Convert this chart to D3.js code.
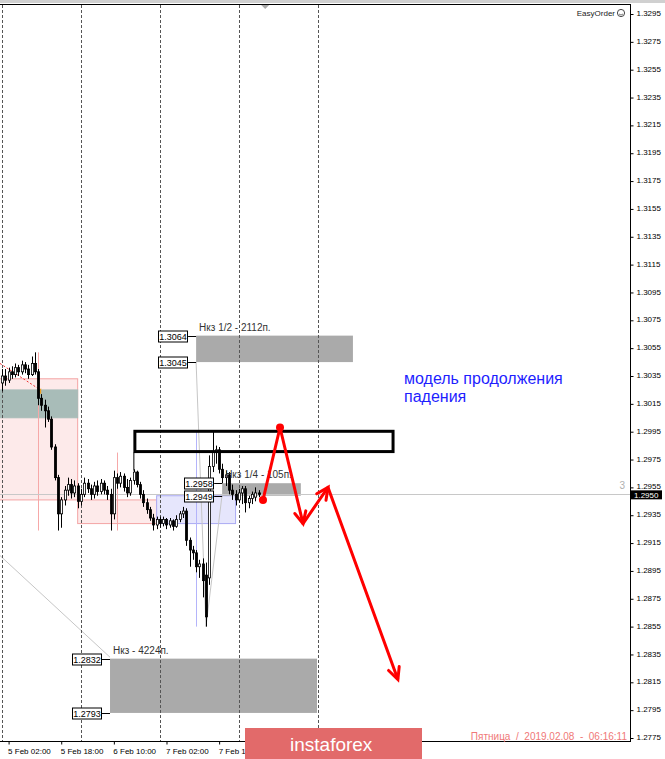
<!DOCTYPE html>
<html>
<head>
<meta charset="utf-8">
<script src="https://cdn.jsdelivr.net/npm/d3@7"></script>
<style>
  body { margin: 0; background: #fff; }
  svg { display: block; font-family: "Liberation Sans", Arial, sans-serif; }
</style>
</head>
<body>
<div id="chart"></div>
<script>
// -- H1 bars, GBPUSD, first bar 2019-02-05 00:00 -- //
const firstBar = "2019-02-05 00:00";
const opens = [
  1.3030, 1.3035, 1.3032, 1.3038, 1.3036, 1.3041, 1.3038, 1.3043, 1.3040, 1.3036,
  1.3044, 1.3038, 1.3019, 1.3014, 1.3010, 1.3004, 1.2984, 1.2962, 1.2936, 1.2946,
  1.2953, 1.2957, 1.2951, 1.2956, 1.2945, 1.2950, 1.2958, 1.2954, 1.2950, 1.2956,
  1.2952, 1.2958, 1.2953, 1.2950, 1.2936, 1.2962, 1.2958, 1.2963, 1.2955, 1.2951,
  1.2960, 1.2966, 1.2957, 1.2950, 1.2944, 1.2939, 1.2933, 1.2928, 1.2932, 1.2929,
  1.2932, 1.2928, 1.2931, 1.2927, 1.2932, 1.2936, 1.2938, 1.2917, 1.2910, 1.2908,
  1.2898, 1.2900, 1.2892, 1.2890, 1.2970, 1.2980, 1.2982, 1.2968, 1.2962, 1.2964,
  1.2953, 1.2950, 1.2946, 1.2951, 1.2954, 1.2944, 1.2947, 1.2948, 1.2951
];
const highs = [
  1.3040, 1.3040, 1.3041, 1.3042, 1.3044, 1.3043, 1.3046, 1.3045, 1.3043, 1.3049,
  1.3052, 1.3040, 1.3022, 1.3018, 1.3013, 1.3006, 1.2986, 1.2964, 1.2948, 1.2956,
  1.2962, 1.2961, 1.2960, 1.2958, 1.2954, 1.2962, 1.2961, 1.2957, 1.2959, 1.2960,
  1.2961, 1.2960, 1.2956, 1.2954, 1.2967, 1.2965, 1.2966, 1.2965, 1.2961, 1.2962,
  1.2968, 1.2967, 1.2959, 1.2953, 1.2947, 1.2941, 1.2936, 1.2934, 1.2934, 1.2934,
  1.2933, 1.2933, 1.2932, 1.2935, 1.2938, 1.2941, 1.2940, 1.2919, 1.2913, 1.2910,
  1.2903, 1.2904, 1.2901, 1.2978, 1.2996, 1.2985, 1.2984, 1.2972, 1.2967, 1.2966,
  1.2957, 1.2953, 1.2954, 1.2956, 1.2956, 1.2949, 1.2952, 1.2955, 1.2953
];
const lows = [
  1.3024, 1.3028, 1.3030, 1.3033, 1.3034, 1.3035, 1.3036, 1.3037, 1.3033, 1.3035,
  1.3036, 1.3014, 1.3010, 1.2998, 1.3002, 1.2982, 1.2960, 1.2924, 1.2926, 1.2942,
  1.2949, 1.2947, 1.2948, 1.2940, 1.2942, 1.2948, 1.2951, 1.2946, 1.2947, 1.2949,
  1.2950, 1.2950, 1.2946, 1.2924, 1.2932, 1.2954, 1.2955, 1.2952, 1.2948, 1.2949,
  1.2957, 1.2955, 1.2947, 1.2941, 1.2936, 1.2931, 1.2924, 1.2925, 1.2926, 1.2927,
  1.2925, 1.2926, 1.2924, 1.2926, 1.2930, 1.2933, 1.2913, 1.2898, 1.2903, 1.2894,
  1.2890, 1.2876, 1.2855, 1.2885, 1.2966, 1.2972, 1.2965, 1.2958, 1.2956, 1.2950,
  1.2946, 1.2942, 1.2944, 1.2943, 1.2937, 1.2940, 1.2943, 1.2945, 1.2948
];
const closes = [
  1.3035, 1.3032, 1.3038, 1.3036, 1.3041, 1.3038, 1.3043, 1.3040, 1.3036, 1.3044,
  1.3038, 1.3019, 1.3014, 1.3010, 1.3004, 1.2984, 1.2962, 1.2936, 1.2946, 1.2953,
  1.2957, 1.2951, 1.2956, 1.2945, 1.2950, 1.2958, 1.2954, 1.2950, 1.2956, 1.2952,
  1.2958, 1.2953, 1.2950, 1.2936, 1.2962, 1.2958, 1.2963, 1.2955, 1.2951, 1.2960,
  1.2966, 1.2957, 1.2950, 1.2944, 1.2939, 1.2933, 1.2928, 1.2932, 1.2929, 1.2932,
  1.2928, 1.2931, 1.2927, 1.2932, 1.2936, 1.2938, 1.2917, 1.2910, 1.2908, 1.2898,
  1.2900, 1.2888, 1.2862, 1.2970, 1.2980, 1.2982, 1.2968, 1.2962, 1.2964, 1.2953,
  1.2950, 1.2946, 1.2951, 1.2954, 1.2944, 1.2947, 1.2950, 1.2951, 1.2950
];

// axis ticks
const yTicks = [
  1.2775, 1.2795, 1.2815, 1.2835, 1.2855, 1.2875, 1.2895, 1.2915, 1.2935,
  1.2955, 1.2975, 1.2995, 1.3015, 1.3035, 1.3055, 1.3075, 1.3095, 1.3115,
  1.3135, 1.3155, 1.3175, 1.3195, 1.3215, 1.3235, 1.3255, 1.3275, 1.3295
];
const xTicks = ["2019-02-05 02:00", "2019-02-05 18:00", "2019-02-06 10:00", "2019-02-07 02:00", "2019-02-07 18:00"];
const daySeparators = ["2019-02-05 00:00", "2019-02-06 00:00", "2019-02-07 00:00", "2019-02-08 00:00", "2019-02-09 00:00"];

// -- Нкз levels (grey zones) -- //
const zoneNames = ["Нкз 1/2 - 2112п.", "Нкз 1/4 - 105п.", "Нкз - 4224п."];
const zoneFrom = ["2019-02-07 11:00", "2019-02-07 18:55", "2019-02-06 08:50"];
const zoneTo = ["2019-02-09 10:40", "2019-02-08 18:50", "2019-02-08 23:45"];
const zoneTop = [1.3064, 1.2958, 1.2832];
const zoneBottom = [1.3045, 1.2949, 1.2793];

// -- other boxes: pink, grey-green, pink, blue -- //
const boxFrom = ["2019-02-04 22:00", "2019-02-04 22:00", "2019-02-05 23:00", "2019-02-06 23:00"];
const boxTo = ["2019-02-05 23:00", "2019-02-05 23:00", "2019-02-06 23:00", "2019-02-07 23:00"];
const boxHigh = [1.3033, 1.3025, 1.2946, 1.2949];
const boxLow = [1.2946, 1.3005, 1.2929, 1.2929];

// resistance frame
const frameFrom = "2019-02-06 16:05";
const frameTo = "2019-02-09 23:10";
const frameHigh = 1.2996;
const frameLow = 1.2980;
const frameAnchor = 1.2967;

// vertical marker lines: pink, pink, blue
const vlineTime = ["2019-02-05 11:00", "2019-02-06 11:00", "2019-02-07 11:00"];
const vlineHigh = [1.3052, 1.2980, 1.2996];
const vlineLow = [1.2924, 1.2924, 1.2855];

// thin grey trend lines
const trendT1 = ["2019-02-04 23:24", "2019-02-07 11:00", "2019-02-07 18:55"];
const trendP1 = [1.2906, 1.3045, 1.2950];
const trendT2 = ["2019-02-06 08:50", "2019-02-07 14:00", "2019-02-07 14:00"];
const trendP2 = [1.2833, 1.2855, 1.2855];

// forecast path (red)
const pathTimes = ["2019-02-08 07:20", "2019-02-08 12:30", "2019-02-08 19:30", "2019-02-09 03:05", "2019-02-10 00:20"];
const pathPrices = [1.2946, 1.2998, 1.2929, 1.2955, 1.2817];

const lastPrice = 1.2950;
const note = ["модель продолжения", "падения"];
const stamp = "Пятница  /  2019.02.08  -  06:16:11";

var width = 665;
var height = 759;
var plotRight = 630;
var plotBottom = 741;

const parse = d3.utcParse("%Y-%m-%d %H:%M");

let drawChart = () => {
    const svg = d3.select("#chart")
        .append("svg")
        .attr("width", width)
        .attr("height", height);

    svg.append("rect").attr("width", width).attr("height", height).attr("fill", "#fff");

    // scales: 1 hour ~ 3.29px
    const x = d3.scaleUtc()
        .domain([parse("2019-02-05 00:00"), parse("2019-02-12 22:53")])
        .range([2, plotRight]);
    const y = d3.scaleLinear()
        .domain([1.2775, 1.3295])
        .range([738, 14]);

    const t = s => x(parse(s));

    // background boxes
    const boxFill = ["#fdeaea", "#a8bcb8", "#fdeaea", "#e6e6fc"];
    const boxStroke = ["#f4a4a4", "#a8bcb8", "#f4a4a4", "#aaaaf4"];
    boxHigh.forEach((h, i) => {
        svg.append("rect")
            .attr("x", t(boxFrom[i]))
            .attr("y", y(h))
            .attr("width", t(boxTo[i]) - t(boxFrom[i]))
            .attr("height", y(boxLow[i]) - y(h))
            .attr("fill", boxFill[i])
            .attr("stroke", boxStroke[i])
            .attr("stroke-width", 1);
    });

    // grey zones
    zoneNames.forEach((name, i) => {
        svg.append("rect")
            .attr("x", t(zoneFrom[i]))
            .attr("y", y(zoneTop[i]))
            .attr("width", t(zoneTo[i]) - t(zoneFrom[i]))
            .attr("height", y(zoneBottom[i]) - y(zoneTop[i]))
            .attr("fill", "#aaaaaa");
    });

    // vertical marker lines
    const vColor = ["#f6a8a8", "#f6a8a8", "#b4b4fa"];
    vlineTime.forEach((s, i) => {
        svg.append("line")
            .attr("x1", Math.round(t(s)) + 0.5).attr("x2", Math.round(t(s)) + 0.5)
            .attr("y1", y(vlineHigh[i])).attr("y2", y(vlineLow[i]))
            .attr("stroke", vColor[i]);
    });

    // grey trend lines
    trendT1.forEach((s, i) => {
        svg.append("line")
            .attr("x1", t(s)).attr("y1", y(trendP1[i]))
            .attr("x2", t(trendT2[i])).attr("y2", y(trendP2[i]))
            .attr("stroke", "#c6c6c6");
    });

    // small red dotted line + marker top left
    svg.append("line")
        .attr("x1", t("2019-02-04 23:24")).attr("y1", y(1.3044))
        .attr("x2", t("2019-02-05 11:00")).attr("y2", y(1.3026))
        .attr("stroke", "#ee3030").attr("stroke-dasharray", "2,2");
    svg.append("path")
        .attr("d", d3.line()([[t("2019-02-05 11:00") + 3, y(1.3024) - 3], [t("2019-02-05 11:00") - 1, y(1.3024)], [t("2019-02-05 11:00") + 3, y(1.3024) + 3]]))
        .attr("fill", "#f0a020");

    // current price line
    svg.append("line")
        .attr("x1", 0).attr("x2", plotRight)
        .attr("y1", Math.round(y(lastPrice)) + 0.5).attr("y2", Math.round(y(lastPrice)) + 0.5)
        .attr("stroke", "#c8c8c8");

    // day separators
    svg.selectAll(".sep")
        .data(daySeparators)
        .enter()
        .append("line")
        .attr("class", "sep")
        .attr("x1", d => Math.round(t(d)) + 0.5)
        .attr("x2", d => Math.round(t(d)) + 0.5)
        .attr("y1", 5).attr("y2", plotBottom)
        .attr("stroke", "#555")
        .attr("stroke-dasharray", "3,2");

    // candles
    const bars = opens.map((o, i) => ({
        time: d3.utcHour.offset(parse(firstBar), i),
        o: o, h: highs[i], l: lows[i], c: closes[i]
    }));
    const candles = svg.append("g").attr("class", "candles");
    candles.selectAll("line")
        .data(bars)
        .enter()
        .append("line")
        .attr("x1", d => Math.round(x(d.time)) + 0.5)
        .attr("x2", d => Math.round(x(d.time)) + 0.5)
        .attr("y1", d => y(d.h))
        .attr("y2", d => y(d.l))
        .attr("stroke", "#000");
    candles.selectAll("rect")
        .data(bars)
        .enter()
        .append("rect")
        .attr("x", d => Math.round(x(d.time)) - 0.6)
        .attr("width", 2.2)
        .attr("y", d => y(Math.max(d.o, d.c)))
        .attr("height", d => Math.max(1, Math.abs(y(d.o) - y(d.c))))
        .attr("fill", d => d.c >= d.o ? "#fff" : "#000")
        .attr("stroke", "#000")
        .attr("stroke-width", 0.8);

    // resistance frame
    svg.append("line")
        .attr("x1", t(frameFrom)).attr("x2", t(frameFrom))
        .attr("y1", y(frameLow)).attr("y2", y(frameAnchor))
        .attr("stroke", "#000");
    svg.append("rect")
        .attr("x", t(frameFrom) + 1)
        .attr("y", y(frameHigh) + 1)
        .attr("width", t(frameTo) - t(frameFrom) - 2)
        .attr("height", y(frameLow) - y(frameHigh) - 2)
        .attr("fill", "none")
        .attr("stroke", "#000")
        .attr("stroke-width", 3);

    // zone labels + price boxes
    zoneNames.forEach((name, i) => {
        const x0 = t(zoneFrom[i]);
        svg.append("text")
            .attr("x", x0 + 3)
            .attr("y", y(zoneTop[i]) - 5)
            .attr("font-size", 10)
            .attr("fill", "#333")
            .text(name);
        [zoneTop[i], zoneBottom[i]].forEach(p => {
            const yy = Math.round(y(p)) + 0.5;
            svg.append("line")
                .attr("x1", x0 - 8).attr("x2", x0)
                .attr("y1", yy).attr("y2", yy)
                .attr("stroke", "#000");
            svg.append("rect")
                .attr("x", Math.round(x0) - 37.5)
                .attr("y", yy - 5.5)
                .attr("width", 29)
                .attr("height", 11)
                .attr("fill", "#fff")
                .attr("stroke", "#000");
            svg.append("text")
                .attr("x", Math.round(x0) - 23)
                .attr("y", yy + 3.5)
                .attr("text-anchor", "middle")
                .attr("font-size", 9)
                .attr("fill", "#000")
                .text(p.toFixed(4));
        });
    });

    // forecast path
    const pts = pathTimes.map((s, i) => [t(s), y(pathPrices[i])]);
    svg.append("path")
        .attr("d", d3.line()(pts))
        .attr("fill", "none")
        .attr("stroke", "#ff0000")
        .attr("stroke-width", 3)
        .attr("stroke-linejoin", "round");
    [0, 1].forEach(i => {
        svg.append("circle")
            .attr("cx", pts[i][0]).attr("cy", pts[i][1])
            .attr("r", 4).attr("fill", "#ff0000");
    });
    [2, 3, 4].forEach(i => {
        const [x1, y1] = pts[i - 1], [x2, y2] = pts[i];
        const a = Math.atan2(y2 - y1, x2 - x1);
        const len = 13, spread = 0.45;
        const arrow = d3.path();
        arrow.moveTo(x2 - len * Math.cos(a - spread), y2 - len * Math.sin(a - spread));
        arrow.lineTo(x2, y2);
        arrow.lineTo(x2 - len * Math.cos(a + spread), y2 - len * Math.sin(a + spread));
        svg.append("path")
            .attr("d", arrow.toString())
            .attr("fill", "none")
            .attr("stroke", "#ff0000")
            .attr("stroke-width", 3)
            .attr("stroke-linecap", "round");
    });

    // note text
    note.forEach((line, i) => {
        svg.append("text")
            .attr("x", 404)
            .attr("y", 384 + i * 18)
            .attr("font-size", 16)
            .attr("fill", "#1e1eff")
            .text(line);
    });

    // frame: top band and borders
    svg.append("rect").attr("x", 0).attr("y", 0).attr("width", width).attr("height", 3).attr("fill", "#d0d0d0");
    svg.append("line").attr("x1", 0).attr("x2", plotRight + 0.5).attr("y1", 4.5).attr("y2", 4.5).attr("stroke", "#000");
    svg.append("line").attr("x1", plotRight + 0.5).attr("x2", plotRight + 0.5).attr("y1", 4).attr("y2", plotBottom + 1).attr("stroke", "#000");
    svg.append("line").attr("x1", 0).attr("x2", plotRight + 1).attr("y1", plotBottom + 0.5).attr("y2", plotBottom + 0.5).attr("stroke", "#000");

    // chart shift marker
    const shiftX = x(d3.utcHour.offset(parse(firstBar), opens.length + 1));
    svg.append("path")
        .attr("d", d3.line()([[shiftX - 4, 5], [shiftX + 4, 5], [shiftX, 9]]))
        .attr("fill", "#aaa");

    // y axis
    const yAxis = svg.append("g")
        .attr("transform", `translate(${plotRight + 0.5},0)`)
        .call(d3.axisRight(y).tickValues(yTicks).tickSize(3).tickPadding(3).tickFormat(d3.format(".4f")));
    yAxis.select(".domain").remove();
    yAxis.attr("font-family", null).attr("font-size", null);
    yAxis.selectAll("text").attr("font-size", 8).attr("fill", "#000").attr("dy", "0.2em");

    // x axis
    const xAxis = svg.append("g")
        .attr("transform", `translate(0,${plotBottom + 0.5})`)
        .call(d3.axisBottom(x).tickValues(xTicks.map(parse)).tickSize(3).tickPadding(4).tickFormat(d3.utcFormat("%-d %b %H:%M")));
    xAxis.select(".domain").remove();
    xAxis.attr("font-family", null).attr("font-size", null);
    xAxis.selectAll("text").attr("font-size", 8).attr("fill", "#000").attr("text-anchor", "start").attr("x", -1);

    // last price tag
    svg.append("rect")
        .attr("x", plotRight + 1).attr("y", y(lastPrice) - 4)
        .attr("width", 31).attr("height", 9)
        .attr("fill", "#000");
    svg.append("text")
        .attr("x", plotRight + 4).attr("y", y(lastPrice) + 3.5)
        .attr("font-size", 8).attr("fill", "#fff")
        .text(lastPrice.toFixed(4));
    svg.append("text")
        .attr("x", 625).attr("y", y(lastPrice) - 5)
        .attr("text-anchor", "end")
        .attr("font-size", 10).attr("fill", "#b0b0b0")
        .text("3");

    // EasyOrder badge
    svg.append("text")
        .attr("x", 615).attr("y", 16)
        .attr("text-anchor", "end")
        .attr("font-size", 8).attr("fill", "#222")
        .text("EasyOrder");
    svg.append("circle").attr("cx", 621).attr("cy", 13).attr("r", 3.6).attr("fill", "none").attr("stroke", "#444");
    svg.append("path").attr("d", "M619,14 Q621,16 623,14").attr("fill", "none").attr("stroke", "#444").attr("stroke-width", 0.7);

    // timestamp
    svg.append("text")
        .attr("x", 627).attr("y", 740)
        .attr("text-anchor", "end")
        .attr("font-size", 10).attr("fill", "#f07878")
        .attr("xml:space", "preserve")
        .style("white-space", "pre")
        .text(stamp);

    // watermark
    svg.append("rect")
        .attr("x", 245).attr("y", 728)
        .attr("width", 177).attr("height", 31)
        .attr("fill", "#e26a6a");
    svg.append("text")
        .attr("x", 290).attr("y", 751)
        .attr("font-size", 19).attr("fill", "#fff")
        .text("instaforex");
}

drawChart();
</script>
</body>
</html>
